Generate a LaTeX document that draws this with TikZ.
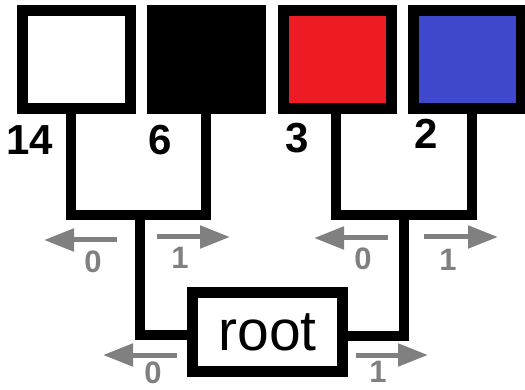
\documentclass[tikz,border=0pt]{standalone}
\usepackage{fontspec}
\setmainfont{Liberation Sans}
\usetikzlibrary{arrows.meta}
\definecolor{sqred}{RGB}{237,28,36}
\definecolor{sqblue}{RGB}{63,72,204}
\definecolor{arrgray}{RGB}{128,128,128}
\tikzset{
  sq/.style={draw=black, line width=11pt, minimum width=108pt, minimum height=98pt, inner sep=0pt},
  wire/.style={draw=black, line width=10.5pt, line join=miter},
  num/.style={font=\fontsize{42}{42}\selectfont\bfseries, inner sep=0pt},
  bit/.style={font=\fontsize{31}{31}\selectfont\bfseries, text=arrgray, inner sep=0pt},
  garrow/.style={draw=arrgray, line width=5pt, -{Triangle[length=30pt,width=22pt]}}
}
\begin{document}
\begin{tikzpicture}[x=1pt,y=-1pt]
\useasboundingbox (0,0) rectangle (525,390);
% squares
\node[sq, fill=white]  (w) at (76.5,59.5) {};
\node[sq, fill=black]  (k) at (206.5,59.5) {};
\node[sq, fill=sqred]  (r) at (337.5,59.5) {};
\node[sq, fill=sqblue] (b) at (467.5,59.5) {};
% root
\node[draw=black, line width=11pt, minimum width=150pt, minimum height=79pt, inner sep=0pt,
      font=\fontsize{57}{57}\selectfont] (root) at (267.5,332) {root};
% counts
\node[num] (n14) at (30,140) {14};
\node[num] (n6)  at (160,140) {6};
\node[num] (n3)  at (297,138) {3};
\node[num] (n2)  at (426,134) {2};
% joints
\coordinate (wl) at (71,114);
\coordinate (kl) at (206,114);
\coordinate (rl) at (336,114);
\coordinate (bl) at (472,114);
\coordinate (lj) at (140,215);
\coordinate (rj) at (404,215);
% wires
\draw[wire] (wl) -- (71,215) -- (206,215) -- (kl);
\draw[wire] (rl) -- (336,215) -- (472,215) -- (bl);
\draw[wire] (lj) -- (140,335) -- (root.west |- 0,335);
\draw[wire] (rj) -- (404,336) -- (root.east |- 0,336);
% gray arrows
\coordinate (a1s) at (117,240); \coordinate (a1e) at (44,240);
\coordinate (a2s) at (157,237); \coordinate (a2e) at (230,237);
\coordinate (a3s) at (388,238); \coordinate (a3e) at (314,238);
\coordinate (a4s) at (424,237); \coordinate (a4e) at (498,237);
\coordinate (a5s) at (177,355); \coordinate (a5e) at (103,355);
\coordinate (a6s) at (356,355); \coordinate (a6e) at (428,355);
\draw[garrow] (a1s) -- (a1e);
\draw[garrow] (a2s) -- (a2e);
\draw[garrow] (a3s) -- (a3e);
\draw[garrow] (a4s) -- (a4e);
\draw[garrow] (a5s) -- (a5e);
\draw[garrow] (a6s) -- (a6e);
\node[bit] (l1) at (93,262) {0};
\node[bit] (l2) at (180,258) {1};
\node[bit] (l3) at (363,259) {0};
\node[bit] (l4) at (448,260) {1};
\node[bit] (l5) at (153,372.5) {0};
\node[bit] (l6) at (378,372) {1};
\end{tikzpicture}
\end{document}
